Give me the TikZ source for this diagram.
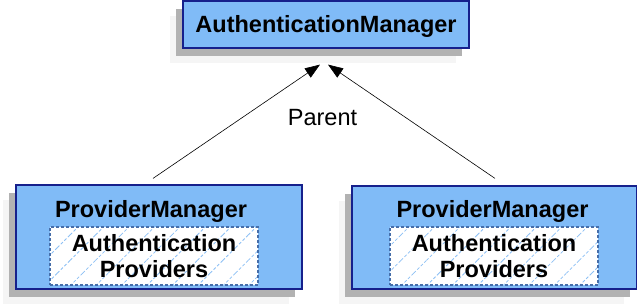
\documentclass[tikz,border=0pt]{standalone}
\usepackage{fontspec}
\setmainfont{Liberation Sans}
\usetikzlibrary{arrows.meta,positioning,calc,shadows,patterns.meta}
\definecolor{boxblue}{RGB}{128,187,247}
\definecolor{boxline}{RGB}{22,32,140}
\definecolor{dashline}{RGB}{70,110,170}
\definecolor{hatchblue}{RGB}{140,192,245}

\begin{document}
\begin{tikzpicture}[
    x=1pt, y=-1pt,
    font=\fontsize{23.5}{26}\selectfont,
    mgr/.style={draw=boxline, line width=1.2pt, fill=boxblue, inner sep=0pt,
        drop shadow={shadow xshift=-13pt, shadow yshift=-15pt, fill=black!4, opacity=1},
        drop shadow={shadow xshift=-7pt, shadow yshift=-8pt, fill=gray!60, opacity=1}},
    prov/.style={draw=dashline, line width=1.1pt, dash pattern=on 3pt off 2pt,
        preaction={fill=white}, pattern={Lines[angle=45,distance=18pt,line width=0.8pt]},
        pattern color=hatchblue, align=center, font=\fontsize{23.5}{26}\selectfont\bfseries,
        minimum width=208pt, minimum height=58pt, inner sep=0pt},
    title/.style={font=\fontsize{23.5}{26}\selectfont\bfseries, anchor=base, inner sep=0pt},
    arr/.style={-{Triangle[length=15pt,width=11pt]}, line width=0.6pt},
]
\useasboundingbox (0,0) rectangle (637,305);

% Parent manager
\node[mgr, minimum width=286pt, minimum height=47pt, font=\fontsize{23.5}{26}\selectfont\bfseries,
    text height=17pt, text depth=0pt] (authmgr) at (326,24.5) {AuthenticationManager};

% Child managers
\node[mgr, minimum width=286pt, minimum height=104pt] (pmleft) at (159,237) {};
\node[mgr, minimum width=285pt, minimum height=103pt] (pmright) at (494.5,237.5) {};

\node[title] (titleleft) at ($(pmleft.north)+(-8,33)$) {ProviderManager};
\node[title] (titleright) at ($(pmright.north)+(-2,32)$) {ProviderManager};

\node[prov] (provleft) at (154,256) {Authentication\\Providers};
\node[prov] (provright) at (494,256) {Authentication\\Providers};

% Parent arrows
\draw[arr] ($(pmleft.north)+(-6,-6)$) -- ($(authmgr.south)+(-6,16)$);
\draw[arr] ($(pmright.north)+(0.5,-7)$) -- ($(authmgr.south)+(2,16)$);
\node[anchor=base, inner sep=0pt] (parent) at (322.5,125) {Parent};
\end{tikzpicture}
\end{document}
